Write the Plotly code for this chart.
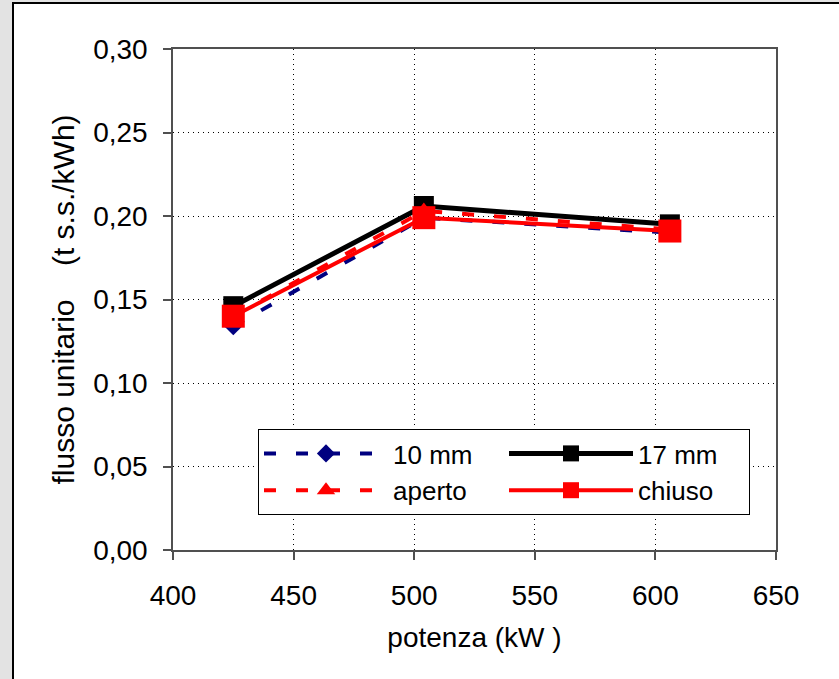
import plotly.graph_objects as go

# Potenza (kW) and flusso unitario (t s.s./kWh) for each configuration
potenza = [425, 504, 606]
flusso_10mm = [0.134, 0.199, 0.190]
flusso_17mm = [0.146, 0.206, 0.195]
flusso_aperto = [0.140, 0.203, 0.192]
flusso_chiuso = [0.140, 0.199, 0.191]

x_ticks = [400, 450, 500, 550, 600, 650]
y_ticks = [0.00, 0.05, 0.10, 0.15, 0.20, 0.25, 0.30]

FONT = "Liberation Sans, Arial, sans-serif"

fig = go.Figure()

fig.add_trace(go.Scatter(
    x=potenza, y=flusso_10mm, name="10 mm", mode="lines+markers",
    line=dict(color="#000080", width=4, dash="12px,20px"),
    marker=dict(symbol="diamond", size=14, color="#000080"),
))
fig.add_trace(go.Scatter(
    x=potenza, y=flusso_17mm, name="17 mm", mode="lines+markers",
    line=dict(color="#000000", width=5),
    marker=dict(symbol="square", size=20, color="#000000"),
))
fig.add_trace(go.Scatter(
    x=potenza, y=flusso_aperto, name="aperto", mode="lines+markers",
    line=dict(color="#ff0000", width=4, dash="12px,20px"),
    marker=dict(symbol="triangle-up", size=17, color="#ff0000"),
))
fig.add_trace(go.Scatter(
    x=potenza, y=flusso_chiuso, name="chiuso", mode="lines+markers",
    line=dict(color="#ff0000", width=4),
    marker=dict(symbol="square", size=23, color="#ff0000"),
))

# plot area in pixels: x 173..776, y 49..550
L, R, T, B = 173, 63, 49, 129
PW, PH = 839 - L - R, 679 - T - B


def px_x(p):
    return (p - L) / PW


def px_y(p):
    return (679 - B - p) / PH


# white chart area with black frame over the grey page
fig.add_shape(
    type="rect", xref="paper", yref="paper", layer="below",
    x0=px_x(13), x1=px_x(900), y0=px_y(760), y1=px_y(3),
    fillcolor="white", line=dict(color="black", width=2),
)

axis_common = dict(
    showline=True, linecolor="#505050", linewidth=1.5, mirror=True,
    ticks="outside", ticklen=8, tickcolor="#505050", tickwidth=1.5,
    showgrid=True, gridcolor="#000000", griddash="1px,4px", gridwidth=1,
    zeroline=False, tickfont=dict(size=28),
)

fig.update_layout(
    width=839, height=679,
    margin=dict(l=L, r=R, t=T, b=B),
    paper_bgcolor="#e3e3e3",
    plot_bgcolor="white",
    separators=",.",
    font=dict(family=FONT, size=28, color="black"),
    showlegend=True,
    legend=dict(
        orientation="h",
        x=px_x(258), y=px_y(429), xanchor="left", yanchor="top",
        bgcolor="white", bordercolor="black", borderwidth=1,
        font=dict(family=FONT, size=26, color="black"),
        entrywidth=106, entrywidthmode="pixels",
        itemwidth=124, tracegroupgap=0,
    ),
    xaxis=dict(
        range=[400, 650], tickvals=x_ticks,
        title=dict(text="potenza (kW\u00a0)", font=dict(size=28), standoff=17),
        ticklabelstandoff=12,
        **axis_common,
    ),
    yaxis=dict(
        range=[0, 0.30], tickvals=y_ticks, tickformat=".2f",
        title=dict(text="flusso unitario\u00a0\u00a0\u00a0\u00a0(t s.s./kWh)", font=dict(size=30), standoff=10),
        ticklabelstandoff=10,
        **axis_common,
    ),
)

fig.write_html("out.html")
